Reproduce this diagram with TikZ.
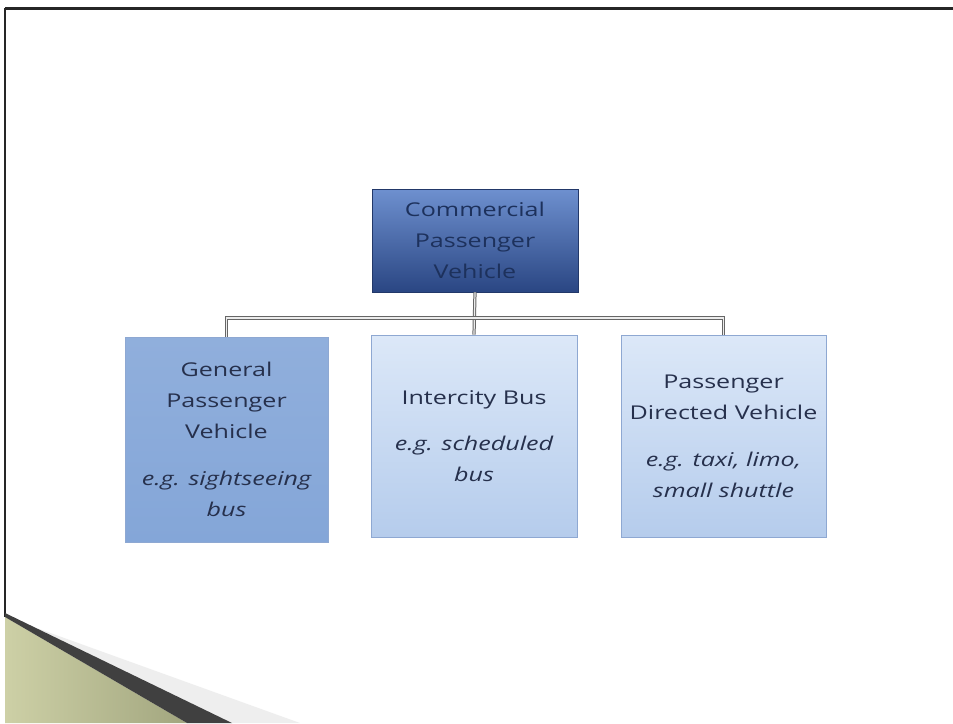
\documentclass[tikz,border=0pt]{standalone}
\usepackage{fontspec}
\setmainfont{Open Sans}[FakeStretch=1.32]
\usetikzlibrary{positioning}
\definecolor{txt}{HTML}{26304C}
\definecolor{topt}{HTML}{6E90CF}
\definecolor{topb}{HTML}{2A4683}
\definecolor{midb}{HTML}{84A6D8}
\definecolor{lightt}{HTML}{DCE8F8}
\definecolor{lightb}{HTML}{B5CCEC}
\definecolor{edge}{HTML}{8EA8D2}
\definecolor{olivel}{HTML}{CDD0A6}
\definecolor{oliver}{HTML}{A2A67F}
\tikzset{
  box/.style={rectangle, draw=edge, line width=0.8pt, align=center, text=txt,
    font=\fontsize{19}{31}\selectfont, inner sep=0pt},
  topbox/.style={box, draw=topb!80!black, top color=topt, bottom color=topb, text=topb!70!black},
  medbox/.style={box, top color=midb!90!white, bottom color=midb},
  lightbox/.style={box, top color=lightt, bottom color=lightb},
  conn/.style={draw=black!60, double=white!85!gray, double distance=1.2pt, line width=1pt},
  frameline/.style={draw=black!85},
}
\begin{document}
\begin{tikzpicture}[x=1pt,y=-1pt]
\useasboundingbox[fill=white] (0,0) rectangle (953,723);
% frame
\draw[frameline, line width=3pt] (5,8) -- (953,8);
\draw[frameline, line width=2pt] (5,8) -- (5,617);
% swoosh
\fill[gray!25, opacity=0.5] (20,622) -- (300,723) -- (232,723) -- cycle;
\shade[left color=olivel, right color=oliver] (5,617) -- (187,723) -- (5,723) -- cycle;
\fill[black!75] (5,613) -- (232,723) -- (187,723) -- (5,617) -- cycle;
% nodes
\node[topbox, minimum width=206pt, minimum height=103pt] (top) at (475,240.5)
  {Commercial\\Passenger\\Vehicle};
\node[medbox, minimum width=203pt, minimum height=205pt] (gen) at (226.5,439.5)
  {General\\Passenger\\Vehicle\\[16pt]\itshape e.g. sightseeing\\\itshape bus};
\node[lightbox, minimum width=206pt, minimum height=202pt] (inter) at (474,436)
  {Intercity Bus\\[15pt]\itshape e.g. scheduled\\\itshape bus};
\node[lightbox, minimum width=205pt, minimum height=202pt] (pdv) at (723.5,436)
  {Passenger\\Directed Vehicle\\[16pt]\itshape e.g. taxi, limo,\\\itshape small shuttle};
% connectors
\coordinate (bus) at (475,318);
\draw[conn] (top.south) -- (inter.north);
\draw[conn] (gen.north) |- (bus) -| (pdv.north);
\end{tikzpicture}
\end{document}
